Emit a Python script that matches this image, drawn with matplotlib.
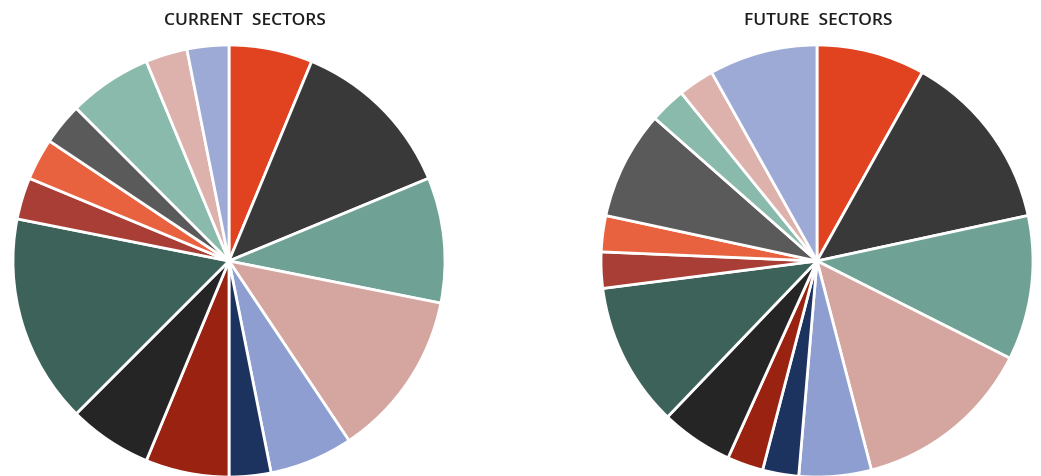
import matplotlib
matplotlib.use("Agg")
import matplotlib.pyplot as plt

sectors = ["S1", "S2", "S3", "S4", "S5", "S6", "S7", "S8", "S9", "S10",
           "S11", "S12", "S13", "S14", "S15"]
current_values = [2, 4, 3, 4, 2, 1, 2, 2, 5, 1, 1, 1, 2, 1, 1]
future_values = [3, 5, 4, 5, 2, 1, 1, 2, 4, 1, 1, 3, 1, 1, 3]
colors = ["#E1421F", "#393939", "#6FA295", "#D5A59F", "#8E9ED1", "#1C3360",
          "#992310", "#262525", "#3D6259", "#A83E35", "#E8623F", "#5A5A5A",
          "#8ABAAB", "#DDB2AD", "#9DAAD6"]
titles = ["CURRENT  SECTORS", "FUTURE  SECTORS"]

W, H = 1041, 477
fig = plt.figure(figsize=(W / 100, H / 100), dpi=100)

def px_axes(cx, cy, r):
    return fig.add_axes([(cx - r) / W, (H - cy - r) / H, 2 * r / W, 2 * r / H])

layout = [(229, 262, 216), (817, 262, 216)]
title_x = [245, 818]
for vals, title, (cx, cy, r), tx in zip([current_values, future_values], titles, layout, title_x):
    ax = px_axes(cx, cy, r)
    ax.pie(vals, colors=colors, startangle=90, counterclock=False, radius=1,
           wedgeprops=dict(edgecolor="white", linewidth=2))
    ax.set_xlim(-1, 1)
    ax.set_ylim(-1, 1)
    ax.set_aspect("equal")
    ax.axis("off")
    fig.text(tx / W, 1 - 21 / H, title, ha="center", va="center",
             fontsize=12.5, fontweight="semibold", color="#1E1E1E",
             family="Open Sans")

fig.savefig("out.png", dpi=100)
